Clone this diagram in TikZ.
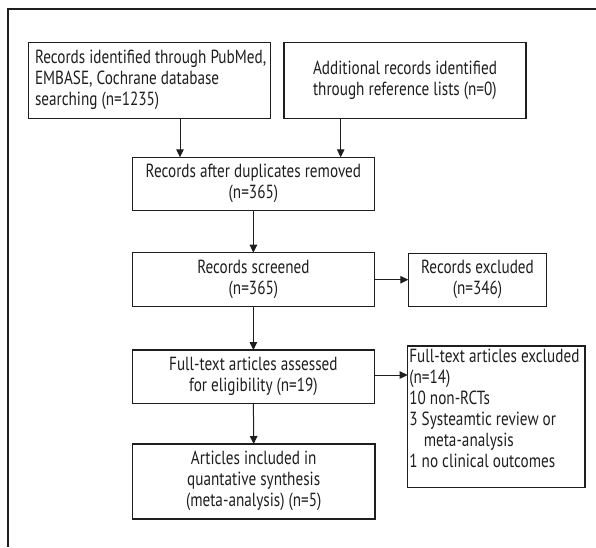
\documentclass[tikz,border=0pt]{standalone}
\usepackage{fontspec}
\usepackage{graphicx}
\setmainfont{PT Sans}
\usetikzlibrary{arrows.meta,calc}
\definecolor{ink}{HTML}{1E1E1E}
\newcommand{\condc}[1]{\scalebox{0.8}[1]{\begin{tabular}{@{}c@{}}#1\end{tabular}}}
\newcommand{\condl}[1]{\scalebox{0.8}[1]{\begin{tabular}{@{}l@{}}#1\end{tabular}}}
\begin{document}
\begin{tikzpicture}[x=1pt,y=-1pt,
  every node/.style={font=\fontsize{19}{21}\selectfont, text=ink},
  box/.style={draw=ink, line width=1.2pt, rectangle, inner sep=0pt, outer sep=0pt},
  arr/.style={draw=ink, line width=1pt, -{Triangle[length=8pt,width=7.5pt]}}]
\useasboundingbox (0,0) rectangle (596,547);
% partial frame
\draw[ink, line width=1.1pt] (596,9) -- (8,9) -- (8,547);
% boxes
\node[box, minimum width=242.4pt, minimum height=75.6pt] (b1) at (149.5,80.5) {};
\node[inner sep=0pt, anchor=west] (t1) at ($(b1.west)+(6.5,0)$) {\condl{Records identified through PubMed,\\EMBASE, Cochrane database\\searching (n=1235)}};
\node[box, minimum width=242pt, minimum height=75.6pt] (b2) at (405,80.5) {\condl{Additional records identified\\through reference lists (n=0)}};
\node[box, minimum width=241.8pt, minimum height=53.4pt] (b3) at (253.4,184) {\condc{Records after duplicates removed\\(n=365)}};
\node[box, minimum width=241.8pt, minimum height=54pt] (b4) at (253.4,279.7) {\condc{Records screened\\(n=365)}};
\node[box, minimum width=138.4pt, minimum height=53pt] (e1) at (477.5,279.7) {\condc{Records excluded\\(n=346)}};
\node[box, minimum width=241.8pt, minimum height=53.3pt] (b5) at (253.4,376.7) {\condc{Full-text articles assessed\\for eligibility (n=19)}};
\node[box, minimum width=177.3pt, minimum height=141.7pt] (e2) at (496.3,416.8) {};
\node[inner sep=0pt, anchor=north west] (t2) at ($(e2.north west)+(1.5,2)$) {\condl{Full-text articles excluded\\(n=14)\\10 non-RCTs\\3 Systeamtic review or\\\hspace*{18pt}meta-analysis\\1 no clinical outcomes}};
\node[box, minimum width=242.5pt, minimum height=75pt] (b6) at (253.7,481.5) {\condc{Articles included in\\quantative synthesis\\(meta-analysis) (n=5)}};
% arrows
\coordinate (a1) at (180,0);
\coordinate (a2) at (340.7,0);
\draw[arr] (b1.south -| a1) -- (b3.north -| a1);
\draw[arr] (b2.south -| a2) -- (b3.north -| a2);
\draw[arr] (b3.south) -- (b4.north);
\draw[arr] (b4.south) -- (b5.north);
\draw[arr] (b5.south) -- (b6.north);
\draw[arr] (b4.east) -- (e1.west);
\draw[arr] (b5.east |- 0,375) -- (e2.west |- 0,375);
\end{tikzpicture}
\end{document}
